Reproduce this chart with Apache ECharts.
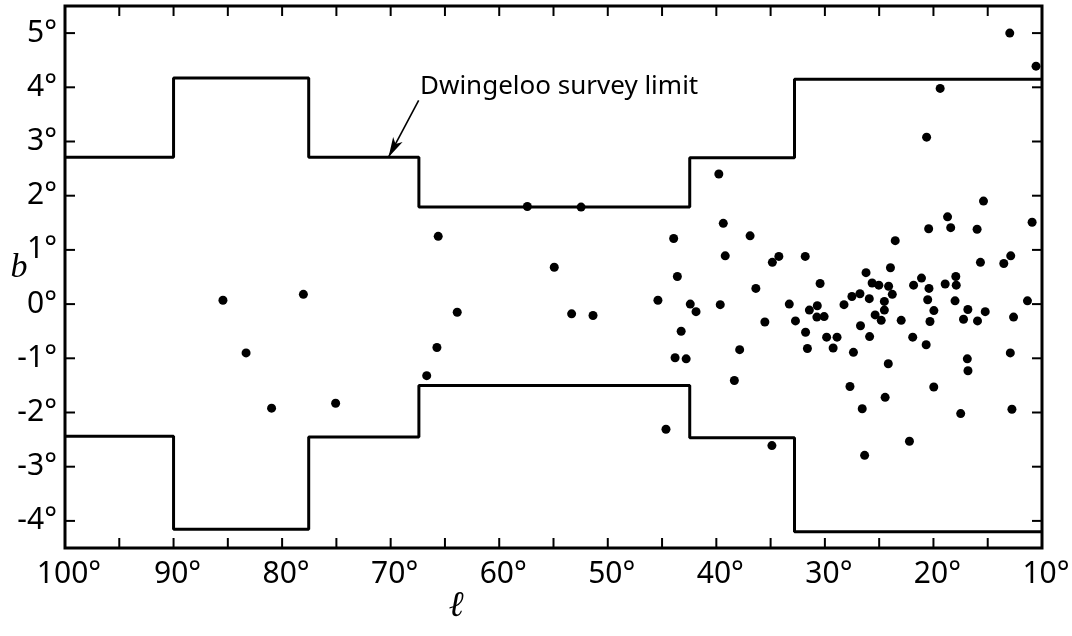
<!DOCTYPE html>
<html>
<head>
<meta charset="utf-8">
<script src="https://cdn.jsdelivr.net/npm/echarts@6/dist/echarts.min.js"></script>
<style>html,body{margin:0;padding:0;background:#fff;}#c{width:1072px;height:636px;}</style>
</head>
<body>
<div id="c"></div>
<script>
// Galactic longitude (l, degrees) of each source
const lon = [
  57.41,52.46,65.62,54.93,85.45,78.04,63.87,53.33,51.36,83.32,65.74,66.68,80.97,75.07,
  39.77,39.36,43.93,36.89,39.18,34.24,34.84,31.81,43.59,36.36,30.44,45.38,42.40,41.87,
  39.64,33.28,30.70,31.43,30.74,30.07,35.53,32.71,43.24,31.78,29.84,28.88,37.85,31.61,
  29.24,43.80,42.78,27.37,20.67,12.92,24.16,16.88,16.82,38.34,27.69,19.97,24.45,26.56,
  17.49,12.77,44.64,34.88,22.21,26.34,15.39,10.91,18.70,20.44,18.41,15.98,23.52,12.88,
  13.52,15.67,23.96,26.21,21.10,17.94,25.65,25.03,24.13,21.83,20.41,18.92,17.90,23.79,
  27.51,26.77,25.91,28.24,24.52,20.53,18.01,11.34,24.52,25.37,19.96,16.83,15.23,24.81,
  22.97,20.32,17.23,15.94,12.62,26.72,25.88,21.91,12.97,10.55,19.38,20.63
];
// Galactic latitude (b, degrees) of each source
const lat = [
  1.80,1.79,1.25,0.68,0.07,0.18,-0.15,-0.18,-0.21,-0.90,-0.80,-1.32,-1.92,-1.83,
  2.40,1.49,1.21,1.26,0.89,0.88,0.77,0.88,0.51,0.29,0.38,0.07,0.00,-0.14,
  -0.01,0.00,-0.03,-0.11,-0.24,-0.23,-0.33,-0.31,-0.50,-0.52,-0.61,-0.61,-0.84,-0.82,
  -0.81,-0.99,-1.01,-0.89,-0.75,-0.90,-1.10,-1.01,-1.23,-1.41,-1.52,-1.53,-1.72,-1.93,
  -2.02,-1.94,-2.31,-2.61,-2.53,-2.79,1.90,1.51,1.61,1.39,1.41,1.38,1.17,0.89,
  0.75,0.77,0.67,0.58,0.48,0.51,0.39,0.35,0.33,0.35,0.29,0.37,0.35,0.18,
  0.14,0.19,0.10,-0.01,0.05,0.08,0.06,0.06,-0.11,-0.20,-0.12,-0.10,-0.14,-0.30,
  -0.30,-0.32,-0.28,-0.31,-0.24,-0.40,-0.60,-0.61,5.00,4.39,3.98,3.08
];
// Survey limit: longitudes of the steps and latitude of each segment
const limitEdges = [100, 90, 77.55, 67.4, 42.45, 32.8, 10];
const upperLevels = [2.71, 4.17, 2.71, 1.79, 2.70, 4.15];
const lowerLevels = [-2.44, -4.155, -2.45, -1.50, -2.465, -4.20];
// Axis ticks
const xTicks = [10,15,20,25,30,35,40,45,50,55,60,65,70,75,80,85,90,95,100];
const xLabels = [10,20,30,40,50,60,70,80,90,100];
const yTicks = [-4,-3,-2,-1,0,1,2,3,4,5];
// Arrow of the annotation (l, b)
const arrowFrom = [67.42, 3.76];
const arrowTo = [70.2, 2.71];

const lMin = 10, lMax = 100, bMin = -4.5, bMax = 5.5;

function steps(levels) {
  const pts = [];
  for (let i = 0; i < levels.length; i++) {
    pts.push([limitEdges[i], levels[i]]);
    pts.push([limitEdges[i + 1], levels[i]]);
  }
  return pts;
}

// frame tick specs: [value, side] side 0=bottom,1=top,2=left,3=right
const frameTicks = [];
xTicks.forEach(v => { frameTicks.push([v, 0]); frameTicks.push([v, 1]); });
yTicks.forEach(v => { frameTicks.push([v, 2]); frameTicks.push([v, 3]); });

const TL = 10;
function renderTick(params, api) {
  const v = api.value(0), side = api.value(1);
  let p, dx = 0, dy = 0;
  if (side === 0) { p = api.coord([v, bMin]); dy = -TL; }
  else if (side === 1) { p = api.coord([v, bMax]); dy = TL; }
  else if (side === 2) { p = api.coord([lMax, v]); dx = TL; }
  else { p = api.coord([lMin, v]); dx = -TL; }
  return {type: 'line', shape: {x1: p[0], y1: p[1], x2: p[0] + dx, y2: p[1] + dy},
    style: {stroke: '#000', lineWidth: 2}};
}

const font = 'Noto Sans';
const chart = echarts.init(document.getElementById('c'), null, {renderer: 'canvas'});
const xBase = {type: 'value', min: lMin, max: lMax, interval: 5, inverse: true,
  axisLine: {show: false, onZero: false}, splitLine: {show: false}};
const yBase = {type: 'value', min: bMin, max: bMax,
  axisLine: {show: false, onZero: false}, splitLine: {show: false}};
chart.setOption({
  animation: false,
  grid: {left: 65, top: 6, right: 30, bottom: 88, show: true, containLabel: false,
    outerBoundsMode: 'none', borderColor: '#000', borderWidth: 3},
  xAxis: [
    Object.assign({}, xBase, {position: 'bottom', axisTick: {show: false},
      axisLabel: {customValues: xLabels, formatter: v => v + '°', fontSize: 30,
        color: '#000', fontFamily: font, margin: 11, padding: [0, 0, 0, 8]}})
  ],
  yAxis: [
    Object.assign({}, yBase, {position: 'left', axisTick: {show: false},
      axisLabel: {customValues: yTicks, formatter: v => v + '°', fontSize: 30,
        color: '#000', fontFamily: font, margin: 8}})
  ],
  series: [
    {type: 'custom', data: frameTicks, renderItem: renderTick, clip: false, silent: true, z: 5},
    {type: 'line', data: steps(upperLevels), showSymbol: false, symbol: 'none',
      lineStyle: {color: '#000', width: 3}, silent: true,
      markLine: {silent: true, symbol: ['none', 'arrow'], symbolSize: [8, 20],
        label: {show: false}, lineStyle: {color: '#000', width: 1.6, type: 'solid', opacity: 1},
        itemStyle: {color: '#000'},
        data: [[{coord: arrowFrom}, {coord: arrowTo}]]}},
    {type: 'line', data: steps(lowerLevels), showSymbol: false, symbol: 'none',
      lineStyle: {color: '#000', width: 3}, silent: true},
    {type: 'scatter', data: lon.map((l, i) => [l, lat[i]]), symbol: 'circle',
      symbolSize: 9, itemStyle: {color: '#000', opacity: 1}}
  ],
  graphic: [
    {type: 'text', x: 420, y: 87, style: {text: 'Dwingeloo survey limit',
      font: '26px "Noto Sans"', fill: '#000', textVerticalAlign: 'middle'}},
    {type: 'text', x: 19, y: 268, style: {text: 'b',
      font: 'italic 34px "Liberation Serif"', fill: '#000', textAlign: 'center', textVerticalAlign: 'middle'}},
    {type: 'text', x: 456, y: 607, style: {text: 'ℓ',
      font: 'italic 36px "DejaVu Serif"', fill: '#000', textAlign: 'center', textVerticalAlign: 'middle'}}
  ]
});
</script>
</body>
</html>
